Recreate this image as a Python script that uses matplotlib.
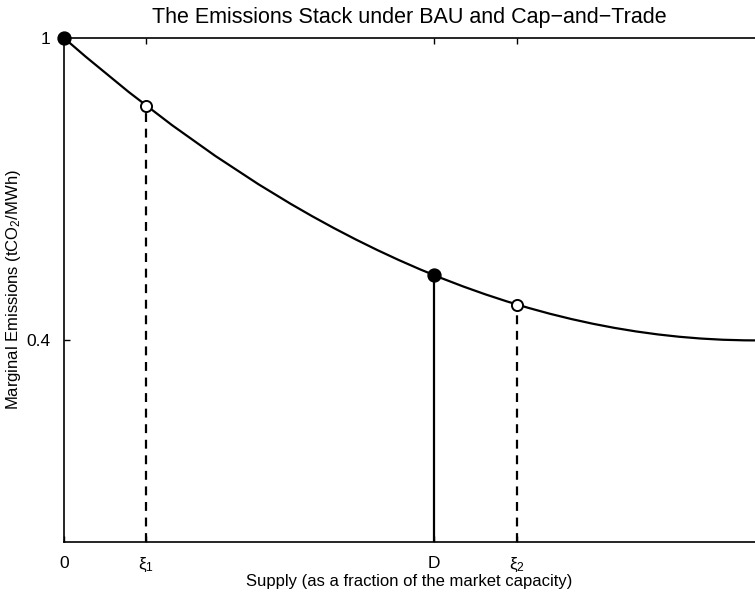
import matplotlib
matplotlib.use('Agg')
import matplotlib.pyplot as plt
from matplotlib.path import Path
from matplotlib.patches import PathPatch

plt.rcParams['font.family'] = ['Liberation Sans', 'DejaVu Sans']
plt.rcParams['mathtext.fontset'] = 'custom'
plt.rcParams['mathtext.rm'] = 'Liberation Sans'
plt.rcParams['mathtext.it'] = 'Liberation Sans'

# emissions stack: quadratic curve given by its end points and control point
curve_x = [0.0, 0.5, 1.0]
curve_y = [1.0, 0.4, 0.4]

# marked supplies and their marginal emissions
xi1, xi1_y = 0.119, 0.866
dem, dem_y = 0.535, 0.530
xi2, xi2_y = 0.656, 0.471

xtick_pos = [0, xi1, dem, xi2]
xtick_lab = ['0', r'$\xi_1$', 'D', r'$\xi_2$']
ytick_pos = [0.4, 1]
ytick_lab = ['0.4', '1']

fig = plt.figure(figsize=(7.55, 5.99), dpi=100)
ax = fig.add_axes([64 / 755, 57 / 599, 691 / 755, 504 / 599])

path = Path(list(zip(curve_x, curve_y)), [Path.MOVETO, Path.CURVE3, Path.CURVE3])
ax.add_patch(PathPatch(path, facecolor='none', edgecolor='black', lw=1.6))

ax.plot([dem, dem], [0, dem_y], color='black', lw=1.6)
ax.plot([xi1, xi1], [0, xi1_y], color='black', lw=1.6, ls=(0, (4, 3)))
ax.plot([xi2, xi2], [0, xi2_y], color='black', lw=1.6, ls=(0, (4, 3)))

ax.plot([0, dem], [1, dem_y], 'o', color='black', ms=9.3, clip_on=False, zorder=5)
ax.plot([xi1, xi2], [xi1_y, xi2_y], 'o', mfc='white', mec='black', mew=1.4, ms=8,
        zorder=5)

ax.set_xlim(0, 1)
ax.set_ylim(0, 1)
ax.set_xticks(xtick_pos)
ax.set_xticklabels(xtick_lab)
ax.set_yticks(ytick_pos)
ax.set_yticklabels(ytick_lab)
ax.tick_params(direction='in', top=True, length=4, width=1, labelsize=12.5)
ax.tick_params(axis='x', pad=10)
ax.tick_params(axis='y', pad=10)
ax.spines['right'].set_visible(False)
for s in ['left', 'bottom', 'top']:
    ax.spines[s].set_linewidth(1.2)

ax.set_title('The Emissions Stack under BAU and Cap\u2212and\u2212Trade', fontsize=15.5, pad=11)
ax.set_xlabel('Supply (as a fraction of the market capacity)', fontsize=12, labelpad=0)
ax.set_ylabel(r'Marginal Emissions (tCO$_2$/MWh)', fontsize=12, labelpad=2)

fig.savefig('out.png', dpi=100)
